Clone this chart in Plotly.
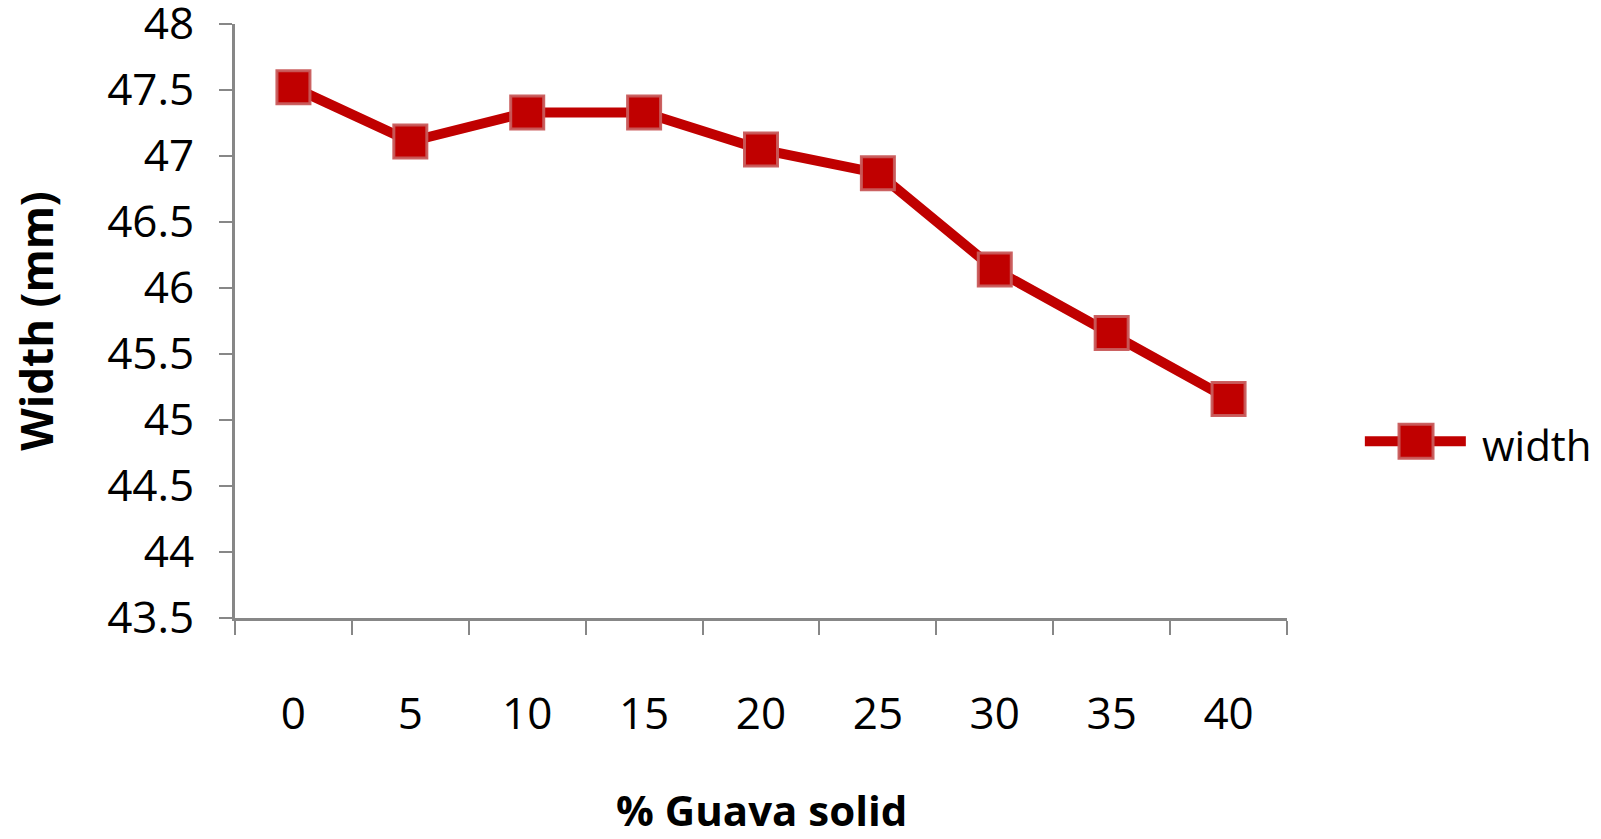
import plotly.graph_objects as go

guava_pct = ["0", "5", "10", "15", "20", "25", "30", "35", "40"]
width_mm = [47.52, 47.11, 47.33, 47.33, 47.05, 46.87, 46.14, 45.66, 45.16]
y_ticks = [43.5, 44, 44.5, 45, 45.5, 46, 46.5, 47, 47.5, 48]
y_ticklabels = ["43.5", "44", "44.5", "45", "45.5", "46", "46.5", "47", "47.5", "48"]
series_name = "width"
x_title = "% Guava solid"
y_title = "Width (mm)"

AX = "#878787"
RED = "#C00000"
EDGE = "rgba(200,90,90,0.95)"

fig = go.Figure()
fig.add_trace(go.Scatter(
    x=guava_pct, y=width_mm, name=series_name, mode="lines+markers",
    line=dict(color=RED, width=10),
    marker=dict(symbol="square", size=33, color=RED,
                line=dict(color=EDGE, width=3)),
    showlegend=False,
))

# legend drawn as decoration (larger symbol than plotly's capped legend marker)
fig.add_shape(type="line", xref="paper", yref="paper",
              x0=1.074, x1=1.170, y0=0.2976, y1=0.2976,
              line=dict(color=RED, width=10))
fig.add_shape(type="rect", xref="paper", yref="paper",
              x0=1.1065, x1=1.1388, y0=0.269, y1=0.326,
              fillcolor=RED, line=dict(color=EDGE, width=3))
fig.add_annotation(text=series_name, xref="paper", yref="paper",
                   x=1.1835, y=0.292, xanchor="left", yanchor="middle",
                   showarrow=False, font=dict(size=42, family="Open Sans", color="black"))

# x-axis title placed below the tick labels
fig.add_annotation(text="<b>" + x_title + "</b>", xref="paper", yref="paper",
                   x=0.5, y=-0.323, xanchor="center", yanchor="middle",
                   showarrow=False, font=dict(size=42, family="Open Sans", color="black"))

fig.update_layout(
    width=1601, height=839,
    margin=dict(l=235, r=314, t=24, b=221),
    paper_bgcolor="white", plot_bgcolor="white",
    font=dict(family="Open Sans", color="black"),
    showlegend=False,
    xaxis=dict(
        type="category", range=[-0.5, 8.5], tickson="boundaries",
        automargin=False,
        showline=True, linecolor=AX, linewidth=3,
        ticks="outside", ticklen=14, tickwidth=2, tickcolor=AX,
        showgrid=False, zeroline=False,
        tickfont=dict(size=44, family="Open Sans"),
        ticklabelstandoff=55,
    ),
    yaxis=dict(
        range=[43.5, 48], tickvals=y_ticks, ticktext=y_ticklabels,
        automargin=False, ticklabeloverflow="allow",
        showline=True, linecolor=AX, linewidth=3,
        ticks="outside", ticklen=13, tickwidth=2, tickcolor=AX,
        showgrid=False, zeroline=False,
        tickfont=dict(size=44, family="Open Sans"),
        ticklabelstandoff=16,
        title=dict(text="<b>" + y_title + "</b>", font=dict(size=44, family="Open Sans"),
                   standoff=40),
    ),
)

fig.write_html("out.html")
